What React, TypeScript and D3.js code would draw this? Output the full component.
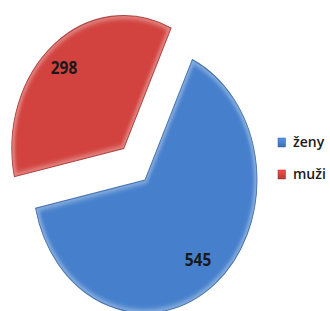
import React from "react";
import * as d3 from "d3";

const categories = ["ženy", "muži"];
const values = [545, 298];
const colors = ["#4680cc", "#d2433f"];
const darkColors = ["#2f5f9f", "#9e2a28"];

export default function App() {
  const W = 330, H = 311;
  const cx = 145, cy = 180;
  const rx = 112, ry = 133;
  const sy = ry / rx;
  const start = (25 * Math.PI) / 180;
  const pie = d3.pie<number>().sort(null).startAngle(start).endAngle(start + 2 * Math.PI);
  const arcs = pie(values);
  const arc = d3.arc<d3.PieArcDatum<number>>().innerRadius(0).outerRadius(rx);
  const explode = [0, 34];
  const labelPos = [
    [198, 266],
    [64, 74],
  ];
  return (
    <svg width={W} height={H} style={{ position: "absolute", left: 0, top: 0 }}>
      <defs>
        <filter id="blur" x="-20%" y="-20%" width="140%" height="140%">
          <feGaussianBlur stdDeviation="1.6" />
        </filter>
        {arcs.map((a, i) => (
          <clipPath id={`clip${i}`} key={i}>
            <path d={arc(a) || ""} />
          </clipPath>
        ))}
        {colors.map((c, i) => (
          <linearGradient id={`lg${i}`} key={i} x1="0" y1="0" x2="0" y2="1">
            <stop offset="0" stopColor={d3.color(c)!.brighter(0.45).formatHex()} />
            <stop offset="1" stopColor={d3.color(c)!.darker(0.45).formatHex()} />
          </linearGradient>
        ))}
      </defs>
      {arcs.map((a, i) => {
        const mid = (a.startAngle + a.endAngle) / 2;
        const ox = Math.sin(mid) * explode[i];
        const oy = -Math.cos(mid) * explode[i] * sy;
        return (
          <g key={i} transform={`translate(${cx + ox},${cy + oy}) scale(1,${sy})`}>
            <path d={arc(a) || ""} fill={colors[i]} />
            <g clipPath={`url(#clip${i})`}>
              <path
                d={arc(a) || ""}
                fill="none"
                stroke="#ffffff"
                strokeOpacity={0.35}
                strokeWidth={6}
                filter="url(#blur)"
              />
            </g>
            <path d={arc(a) || ""} fill="none" stroke={darkColors[i]} strokeWidth={0.9} strokeOpacity={0.8} />
          </g>
        );
      })}
      {values.map((v, i) => (
        <text
          key={i}
          transform={`translate(${labelPos[i][0]},${labelPos[i][1]}) scale(0.86,1)`}
          textAnchor="middle"
          fontFamily="'Open Sans', sans-serif"
          fontWeight="bold"
          fontSize={18}
          fill="#1a1a1a"
        >
          {v}
        </text>
      ))}
      {categories.map((c, i) => (
        <g key={c} transform={`translate(278,${138 + i * 32})`}>
          <rect width={7.5} height={9} fill={`url(#lg${i})`} stroke={darkColors[i]} strokeWidth={0.5} />
          <text
            x={15}
            y={9}
            fontFamily="'Open Sans', sans-serif"
            fontWeight={600}
            fontSize={14}
            fill="#1a1a1a"
          >
            {c}
          </text>
        </g>
      ))}
    </svg>
  );
}
